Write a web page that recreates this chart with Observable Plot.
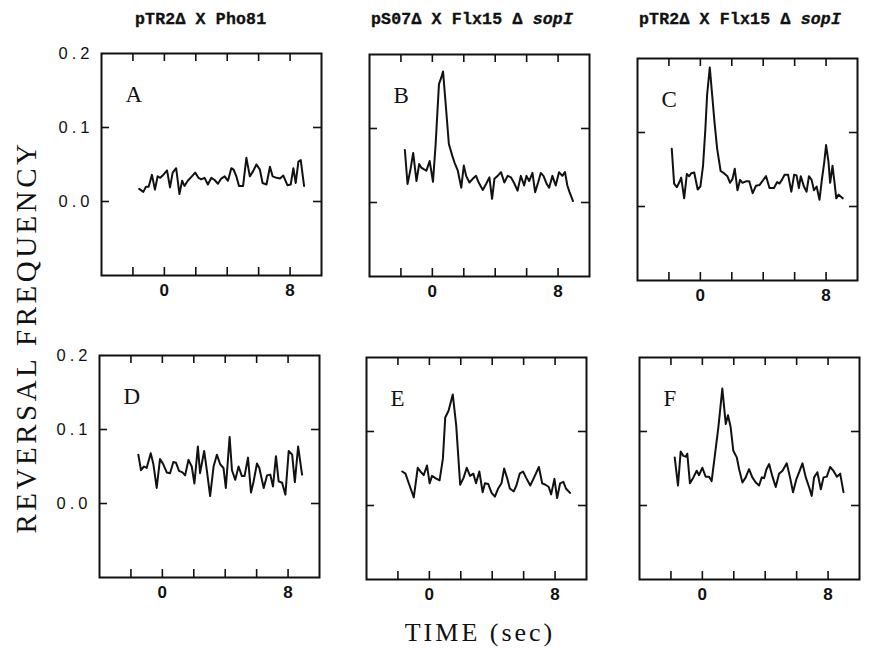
<!DOCTYPE html>
<html>
<head>
<meta charset="utf-8">
<script src="https://cdn.jsdelivr.net/npm/d3@7"></script>
<script src="https://cdn.jsdelivr.net/npm/@observablehq/plot@0.6"></script>
<style>
  body { margin: 0; background: #fff; }
  #fig { position: relative; width: 883px; height: 648px; overflow: hidden; background: #fff; }
  #fig > svg { position: absolute; }
  g[aria-label="y-axis tick label"] text { letter-spacing: 4px; }
</style>
</head>
<body>
<div id="fig"></div>
<script>
// ---------- data ----------
const columnTitles = ["pTR2\u0394 X Pho81", "pS07\u0394 X Flx15 \u0394 ", "pTR2\u0394 X Flx15 \u0394 "];
const columnTitleItalic = ["", "sopI", "sopI"];
const panelLetters = ["A", "B", "C", "D", "E", "F"];
const xTicks = [-2, 0, 2, 4, 6, 8];
const xTickLabels = [0, 8];
const yTicks = [0, 0.1];
const yTickLabels = [0, 0.1, 0.2];
const xDomain = [-4, 10];
const yDomain = [-0.1, 0.2];
const yAxisTitle = "REVERSAL FREQUENCY";
const xAxisTitle = "TIME (sec)";

const timeA = [-1.60,-1.34,-1.17,-1.00,-0.79,-0.60,-0.43,-0.26,-0.11,0.17,0.36,0.53,0.75,0.96,1.13,1.28,1.49,1.75,1.96,2.17,2.35,2.56,2.77,2.99,3.20,3.41,3.62,3.84,4.05,4.26,4.41,4.58,4.75,5.01,5.22,5.44,5.65,5.86,6.08,6.25,6.50,6.72,6.89,7.14,7.36,7.57,7.83,8.04,8.21,8.36,8.53,8.68,8.89];
const freqA = [0.017,0.013,0.020,0.020,0.036,0.016,0.034,0.032,0.035,0.042,0.019,0.039,0.045,0.010,0.028,0.021,0.028,0.034,0.039,0.032,0.030,0.032,0.023,0.032,0.029,0.024,0.031,0.034,0.028,0.045,0.043,0.034,0.021,0.021,0.059,0.034,0.041,0.050,0.043,0.025,0.023,0.047,0.034,0.032,0.031,0.035,0.022,0.023,0.045,0.025,0.054,0.056,0.021];

const timeB = [-1.75,-1.58,-1.39,-1.22,-1.01,-0.84,-0.70,-0.55,-0.38,-0.17,0.04,0.21,0.42,0.57,0.68,0.89,1.05,1.27,1.41,1.62,1.84,2.00,2.15,2.36,2.57,2.78,2.95,3.21,3.42,3.63,3.80,3.95,4.16,4.37,4.58,4.79,5.00,5.21,5.42,5.63,5.84,5.99,6.16,6.37,6.54,6.73,6.90,7.07,7.28,7.43,7.64,7.85,8.06,8.27,8.44,8.59,8.73,8.95];
const freqB = [0.071,0.025,0.045,0.067,0.029,0.052,0.047,0.045,0.043,0.056,0.028,0.079,0.160,0.169,0.177,0.122,0.079,0.063,0.054,0.043,0.020,0.050,0.036,0.027,0.032,0.036,0.027,0.017,0.025,0.034,0.005,0.032,0.036,0.041,0.027,0.036,0.034,0.026,0.016,0.036,0.023,0.036,0.029,0.040,0.014,0.027,0.040,0.036,0.025,0.020,0.036,0.023,0.041,0.036,0.041,0.023,0.014,0.002];

const timeC = [-1.82,-1.67,-1.50,-1.33,-1.22,-1.03,-0.86,-0.71,-0.58,-0.39,-0.17,0.00,0.17,0.32,0.43,0.60,0.75,0.90,1.07,1.29,1.50,1.72,1.89,2.04,2.19,2.36,2.53,2.68,2.90,3.11,3.33,3.54,3.76,3.97,4.18,4.40,4.68,4.89,5.04,5.19,5.36,5.58,5.79,5.97,6.12,6.27,6.39,6.59,6.76,6.91,7.08,7.23,7.40,7.58,7.73,7.88,8.00,8.15,8.26,8.41,8.54,8.65,8.80,9.06];
const freqC = [0.078,0.031,0.026,0.033,0.039,0.011,0.044,0.041,0.045,0.046,0.023,0.027,0.055,0.105,0.151,0.188,0.151,0.114,0.078,0.048,0.045,0.041,0.032,0.037,0.051,0.022,0.036,0.032,0.034,0.034,0.018,0.028,0.029,0.035,0.041,0.025,0.025,0.033,0.031,0.036,0.043,0.043,0.020,0.043,0.042,0.025,0.041,0.027,0.020,0.041,0.036,0.022,0.027,0.009,0.036,0.059,0.083,0.061,0.032,0.055,0.032,0.011,0.016,0.011];

const timeD = [-1.53,-1.36,-1.17,-1.00,-0.74,-0.57,-0.36,-0.15,0.06,0.28,0.49,0.70,0.87,1.06,1.28,1.45,1.66,1.87,2.04,2.26,2.40,2.66,2.83,3.04,3.26,3.47,3.68,3.89,4.04,4.28,4.43,4.64,4.85,5.06,5.23,5.45,5.64,5.81,6.02,6.17,6.45,6.66,6.87,7.04,7.23,7.40,7.62,7.83,8.04,8.26,8.43,8.64,8.89];
const freqD = [0.066,0.045,0.050,0.048,0.068,0.053,0.021,0.060,0.053,0.042,0.041,0.056,0.055,0.044,0.042,0.038,0.059,0.050,0.027,0.077,0.041,0.071,0.045,0.010,0.050,0.066,0.053,0.048,0.021,0.090,0.045,0.032,0.050,0.037,0.037,0.062,0.015,0.030,0.054,0.048,0.021,0.038,0.039,0.023,0.064,0.030,0.028,0.012,0.071,0.066,0.029,0.077,0.039];

const timeE = [-1.73,-1.52,-1.31,-0.99,-0.74,-0.57,-0.36,-0.15,0.02,0.17,0.38,0.65,0.86,1.01,1.22,1.49,1.71,1.96,2.17,2.38,2.59,2.80,2.97,3.18,3.39,3.54,3.75,3.96,4.17,4.38,4.59,4.76,4.95,5.12,5.37,5.54,5.75,5.96,6.17,6.42,6.69,6.97,7.18,7.39,7.60,7.75,7.96,8.13,8.32,8.53,8.69,8.95];
const freqE = [0.046,0.043,0.030,0.011,0.051,0.046,0.041,0.054,0.030,0.040,0.037,0.034,0.063,0.119,0.128,0.150,0.108,0.028,0.037,0.051,0.040,0.043,0.030,0.046,0.018,0.030,0.029,0.017,0.012,0.023,0.030,0.050,0.037,0.023,0.019,0.027,0.043,0.046,0.037,0.027,0.039,0.052,0.030,0.028,0.025,0.015,0.036,0.010,0.030,0.032,0.023,0.017];

const timeF = [-1.76,-1.55,-1.38,-1.21,-1.06,-0.96,-0.79,-0.57,-0.36,-0.21,0.00,0.21,0.42,0.59,0.81,1.02,1.27,1.49,1.63,1.80,1.97,2.19,2.34,2.55,2.76,2.97,3.18,3.40,3.61,3.78,3.93,4.08,4.25,4.46,4.67,4.88,5.10,5.37,5.58,5.77,5.99,6.16,6.37,6.58,6.79,6.96,7.11,7.32,7.54,7.71,7.92,8.13,8.34,8.56,8.77,8.98];
const freqF = [0.065,0.027,0.073,0.067,0.066,0.070,0.030,0.038,0.047,0.041,0.051,0.039,0.039,0.033,0.070,0.106,0.158,0.110,0.122,0.106,0.074,0.065,0.049,0.031,0.038,0.049,0.038,0.031,0.027,0.038,0.037,0.049,0.056,0.039,0.025,0.043,0.047,0.057,0.038,0.018,0.036,0.045,0.057,0.038,0.025,0.013,0.038,0.045,0.022,0.038,0.039,0.052,0.047,0.039,0.043,0.018];

const panelTimes = [timeA, timeB, timeC, timeD, timeE, timeF];
const panelFreqs = [freqA, freqB, freqC, freqD, freqE, freqF];

// ---------- layout ----------
const W = 220, H = 222;
const M = {left: 50, right: 6, top: 6, bottom: 34};
const framePos = [
  {left: 101, top: 53}, {left: 369, top: 54}, {left: 637, top: 58},
  {left: 99, top: 355}, {left: 366, top: 357}, {left: 639, top: 357}
];
const sans = "Liberation Sans, Arial, sans-serif";
const fig = document.getElementById("fig");

function panel(i) {
  const t = panelTimes[i], f = panelFreqs[i];
  const n = Math.min(t.length, f.length);
  const data = t.slice(0, n).map((x, j) => ({t: x, v: f[j]}));
  const showY = i % 3 === 0;
  return Plot.plot({
    width: W + M.left + M.right,
    height: H + M.top + M.bottom,
    marginLeft: M.left, marginRight: M.right, marginTop: M.top, marginBottom: M.bottom,
    style: {background: "transparent", overflow: "visible", color: "#111"},
    x: {domain: xDomain, axis: null},
    y: {domain: yDomain, axis: null},
    marks: [
      Plot.tickX(xTicks, {x: d => d, insetTop: H - 8, strokeWidth: 1.6}),
      Plot.tickX(xTicks, {x: d => d, insetBottom: H - 8, strokeWidth: 1.6}),
      Plot.tickY(yTicks, {y: d => d, insetRight: W - 8, strokeWidth: 1.6}),
      Plot.tickY(yTicks, {y: d => d, insetLeft: W - 8, strokeWidth: 1.6}),
      Plot.frame({strokeWidth: 2}),
      Plot.axisX(xTickLabels, {anchor: "bottom", tickSize: 0, tickPadding: 8, fontSize: 17, fontWeight: "bold", fontFamily: sans, label: null}),
      showY ? Plot.axisY(yTickLabels, {anchor: "left", tickSize: 0, tickPadding: 8, tickFormat: d3.format(".1f"), fontSize: 16.5, fontFamily: sans, label: null}) : null,
      Plot.line(data, {x: "t", y: "v", strokeWidth: 2, stroke: "#111"}),
      Plot.text([panelLetters[i]], {text: d => d, frameAnchor: "top-left", dx: 24, dy: 32, lineAnchor: "top", textAnchor: "start", fontSize: 23, fontFamily: "Liberation Serif, serif"})
    ]
  });
}

for (let i = 0; i < 6; i++) {
  const svg = panel(i);
  svg.style.left = (framePos[i].left - M.left) + "px";
  svg.style.top = (framePos[i].top - M.top) + "px";
  fig.appendChild(svg);
}

// ---------- titles and axis titles ----------
const overlay = d3.select(fig).append("svg")
  .attr("width", 883).attr("height", 648)
  .style("left", "0px").style("top", "0px").style("pointer-events", "none");

const titleX = [135, 371, 639];
columnTitles.forEach((s, i) => {
  const tx = overlay.append("text")
    .attr("x", titleX[i]).attr("y", 24)
    .attr("font-family", "Liberation Mono, monospace")
    .attr("font-weight", "bold").attr("font-size", 16.5)
    .attr("letter-spacing", "0.2px").attr("fill", "#111")
    .attr("stroke", "#111").attr("stroke-width", 0.35);
  tx.append("tspan").text(s);
  if (columnTitleItalic[i]) tx.append("tspan").attr("font-style", "italic").text(columnTitleItalic[i]);
});

overlay.append("text")
  .attr("transform", "translate(36,337) rotate(-90)")
  .attr("text-anchor", "middle")
  .attr("font-family", "Liberation Serif, serif")
  .attr("font-size", 29).attr("letter-spacing", "3.5px").attr("fill", "#111")
  .text(yAxisTitle);

overlay.append("text")
  .attr("x", 480).attr("y", 641)
  .attr("text-anchor", "middle")
  .attr("font-family", "Liberation Serif, serif")
  .attr("font-size", 26).attr("letter-spacing", "3px").attr("fill", "#111")
  .text(xAxisTitle);
</script>
</body>
</html>
